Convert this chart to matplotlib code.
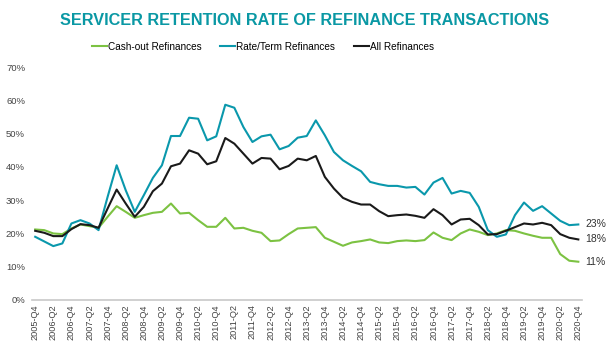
import matplotlib.pyplot as plt
import numpy as np

plt.rcParams['font.family'] = ['Liberation Sans', 'DejaVu Sans']

# quarters 2005-Q4 .. 2020-Q4
quarters = ['2005-Q4']
for yr in range(2006, 2021):
    for q in range(1, 5):
        quarters.append('{}-Q{}'.format(yr, q))

cash_out = [21.2, 21.0, 20.0, 19.8, 21.5, 22.7, 22.2, 21.7, 25.0, 28.2,
            26.5, 24.7, 25.5, 26.2, 26.5, 29.0, 26.0, 26.2, 24.0, 22.0,
            22.0, 24.7, 21.5, 21.7, 20.8, 20.2, 17.7, 17.9, 19.8, 21.5,
            21.7, 21.9, 18.7, 17.5, 16.3, 17.3, 17.7, 18.2, 17.3, 17.1,
            17.7, 17.9, 17.7, 18.0, 20.3, 18.7, 18.0, 20.0, 21.2, 20.5,
            19.5, 20.0, 21.0, 20.8, 20.0, 19.3, 18.7, 18.7, 13.8, 11.8,
            11.5]
rate_term = [19.0, 17.6, 16.2, 17.0, 23.0, 24.0, 23.0, 21.0, 31.0, 40.5,
             33.0, 26.5, 31.5, 36.7, 40.5, 49.3, 49.3, 54.8, 54.5, 48.0,
             49.2, 58.7, 57.8, 52.0, 47.5, 49.2, 49.7, 45.3, 46.3, 48.8,
             49.3, 54.0, 49.5, 44.5, 42.0, 40.3, 38.7, 35.5, 34.8, 34.3,
             34.3, 33.8, 34.0, 31.7, 35.3, 36.7, 32.0, 32.8, 32.2, 28.0,
             21.0, 19.0, 19.7, 25.5, 29.3, 26.8, 28.2, 26.0, 23.8, 22.5,
             22.7]
all_refi = [20.8, 20.2, 19.2, 19.2, 21.3, 22.8, 22.5, 21.7, 27.5, 33.2,
            29.0, 25.0, 28.0, 32.7, 35.0, 40.2, 41.0, 45.0, 44.0, 40.8,
            41.7, 48.7, 47.0, 44.0, 41.0, 42.7, 42.5, 39.3, 40.3, 42.5,
            42.0, 43.3, 37.0, 33.5, 30.7, 29.5, 28.7, 28.7, 26.7, 25.2,
            25.5, 25.7, 25.3, 24.7, 27.3, 25.5, 22.7, 24.2, 24.4, 22.5,
            19.7, 19.8, 20.8, 21.9, 23.0, 22.7, 23.2, 22.5, 19.8, 18.7,
            18.2]
end_labels = ['11%', '23%', '18%']

green = '#7cc242'
teal = '#0a98ac'
black = '#1a1a1a'

x = np.arange(len(quarters))

fig = plt.figure(figsize=(6.1, 3.48), dpi=100)
ax = fig.add_axes([0.0525, 0.138, 0.9015, 0.669])

ax.plot(x, cash_out, color=green, lw=1.5, label='Cash-out Refinances')
ax.plot(x, rate_term, color=teal, lw=1.5, label='Rate/Term Refinances')
ax.plot(x, all_refi, color=black, lw=1.5, label='All Refinances')

for series, lab in zip([cash_out, rate_term, all_refi], end_labels):
    ax.annotate(lab, (x[-1], series[-1]), xytext=(5, 0), textcoords='offset points',
                va='center', ha='left', fontsize=7.5, color='#333333')

ax.set_xlim(-0.35, 60.4)
ax.set_ylim(0, 70)
ax.set_yticks(np.arange(0, 71, 10))
ax.set_yticklabels(['{}%'.format(v) for v in range(0, 71, 10)], fontsize=6.8, color='#444444')
ax.set_xticks(x[::2])
ax.set_xticklabels(quarters[::2], rotation=90, fontsize=6.6, color='#444444')
ax.tick_params(axis='y', length=0, pad=5)
ax.tick_params(axis='x', length=0, pad=3)

for s in ['top', 'right', 'left']:
    ax.spines[s].set_visible(False)
ax.spines['bottom'].set_color('#c8c8c8')
ax.spines['bottom'].set_linewidth(1.2)

fig.text(0.5, 0.94, 'SERVICER RETENTION RATE OF REFINANCE TRANSACTIONS',
         ha='center', va='center', fontsize=11.7, fontweight='bold', color='#0a98a4')
fig.legend(loc='center', bbox_to_anchor=(0.431, 0.865), ncol=3, frameon=False,
           fontsize=7.2, handlelength=1.5, handletextpad=0.1, columnspacing=1.9)

fig.savefig('out.png', dpi=100)
